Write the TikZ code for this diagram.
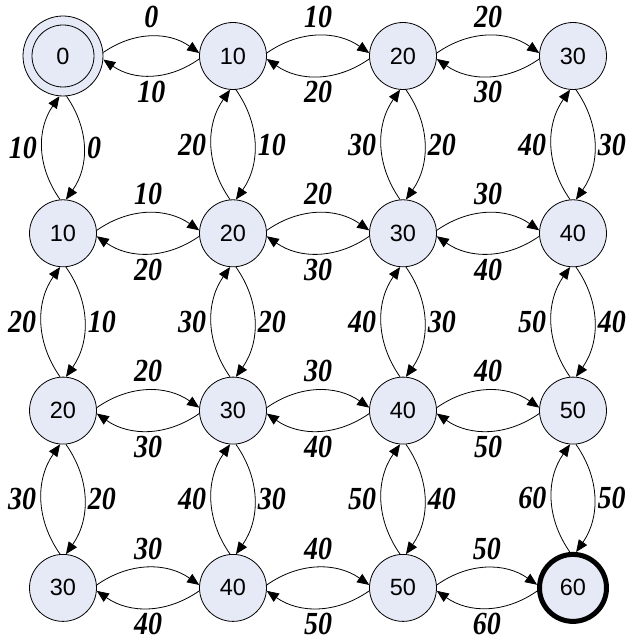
\documentclass[tikz,border=0pt]{standalone}
\usepackage{fontspec}
\setmainfont{Liberation Serif}
\newfontfamily\arialfont{Liberation Sans}
\usetikzlibrary{arrows.meta}
\definecolor{state-blue}{RGB}{230,234,246}
\newcommand\tallnum[1]{\scalebox{1}[1.15]{#1}}

\begin{document}
\begin{tikzpicture}[x=1pt, y=1pt, >={Triangle[length=12pt,width=10pt]},
    s/.style={circle, draw, fill=state-blue, line width=0.8pt, minimum size=67pt, inner sep=0pt,
      font=\arialfont\fontsize{23.5}{23.5}\selectfont},
    s00/.style={minimum size=80pt},
    s33/.style={line width=5pt},
    e/.style={->, line width=0.8pt, bend left=35},
    w/.style={font=\bfseries\itshape\fontsize{28}{28}\selectfont, inner sep=2pt}]
  \useasboundingbox (0,0) rectangle (626,641);
  % states
  \foreach \r in {0,...,3} {
    \foreach \c in {0,...,3} {
      \pgfmathtruncatemacro{\v}{10*(\r+\c)}
      \node[s, s\r\c/.try] (n\r\c) at ({63+170*\c},{585-177.3*\r}) {\v};
    }
  }
  \draw[line width=0.8pt] (n00.center) circle (31pt);
  % moves along a row
  \foreach \r in {0,...,3} {
    \foreach \c/\d in {0/1,1/2,2/3} {
      \pgfmathtruncatemacro{\a}{10*(\r+\c)}
      \pgfmathtruncatemacro{\b}{\a+10}
      \draw[e] (n\r\c.5) to node[w, above=6pt] {\tallnum{\a}} (n\r\d.175);
      \draw[e] (n\r\d.-175) to node[w, below=3pt] {\tallnum{\b}} (n\r\c.-5);
    }
  }
  % moves along a column
  \foreach \r/\q in {0/1,1/2,2/3} {
    \foreach \c in {0,...,3} {
      \pgfmathtruncatemacro{\a}{10*(\r+\c)}
      \pgfmathtruncatemacro{\b}{\a+10}
      \draw[e] (n\r\c.-85) to node[w, right=1pt] {\tallnum{\a}} (n\q\c.85);
      \draw[e] (n\q\c.95) to node[w, left=3pt] {\tallnum{\b}} (n\r\c.-95);
    }
  }
\end{tikzpicture}
\end{document}
